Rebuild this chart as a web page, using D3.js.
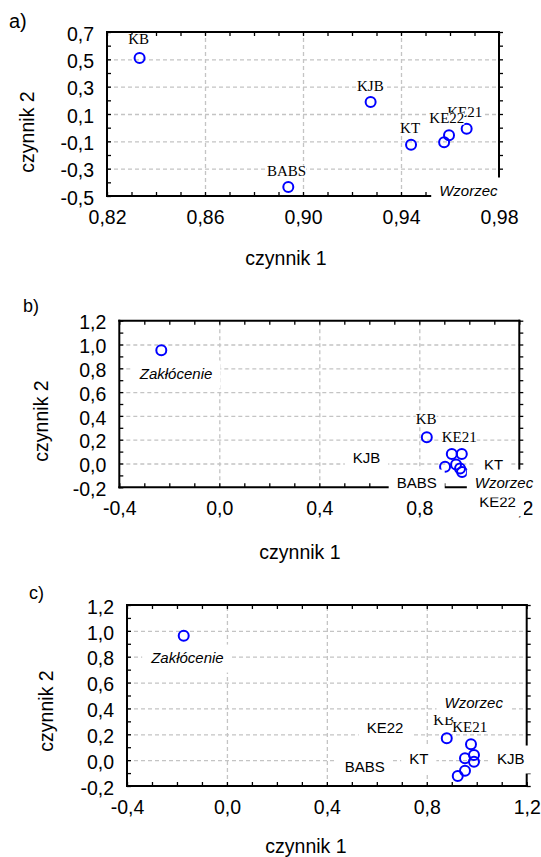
<!DOCTYPE html>
<html>
<head>
<meta charset="utf-8">
<script src="https://cdn.jsdelivr.net/npm/d3@7/dist/d3.min.js"></script>
<style>
  body { margin: 0; background: #fff; }
  svg { display: block; }
  .grid line { stroke: #c4c4c4; stroke-width: 1.3; stroke-dasharray: 4 3; }
  .grid path, .ticks path { display: none; }
  .ticks line { stroke: #000; stroke-width: 1.3; }
  .frame { stroke: #000; stroke-width: 2; }
  .sans { font-family: "Liberation Sans", Arial, sans-serif; }
  .serif { font-family: "Liberation Serif", "Times New Roman", serif; }
</style>
</head>
<body>
<svg id="chart" width="541" height="857"></svg>
<script>
// ---- panel a) ----
const aPointNames = ['KB', 'KJB', 'KT', 'KE22', 'Wzorzec', 'KE21', 'BABS'];
const aPointX = [0.8333, 0.9276, 0.9441, 0.9576, 0.9596, 0.9668, 0.8940];
const aPointY = [0.510, 0.188, -0.125, -0.107, -0.056, -0.008, -0.434];
// label anchors in data units (draw order)
const aLabels = ['KB', 'KJB', 'KT', 'BABS', 'KE21', 'KE22', 'Wzorzec'];
const aLabelX = [0.8329, 0.9275, 0.9437, 0.8933, 0.9660, 0.9587, 0.9675];
const aLabelY = [0.611, 0.270, -0.037, -0.351, 0.080, 0.036, -0.500];
const aXTicks = [0.82, 0.86, 0.90, 0.94, 0.98];
const aYTicks = [-0.5, -0.3, -0.1, 0.1, 0.3, 0.5, 0.7];

// ---- panel b) ----
const bPointNames = ['Zakłócenie', 'KB', 'KJB', 'KE21', 'BABS', 'KT', 'KE22', 'Wzorzec'];
const bPointX = [-0.232, 0.830, 0.930, 0.970, 0.903, 0.947, 0.963, 0.971];
const bPointY = [0.951, 0.221, 0.080, 0.080, -0.027, -0.008, -0.042, -0.071];
const bLabels = ['Zakłócenie', 'KB', 'KE21', 'KJB', 'KT', 'KE22', 'BABS', 'Wzorzec'];
const bLabelX = [-0.173, 0.8276, 0.9596, 0.5888, 1.0968, 1.1128, 0.7896, 1.1388];
const bLabelY = [0.710, 0.329, 0.183, 0.004, -0.055, -0.363, -0.206, -0.206];
const bXTicks = [-0.4, 0.0, 0.4, 0.8, 1.2];
const bYTicks = [-0.2, 0.0, 0.2, 0.4, 0.6, 0.8, 1.0, 1.2];

// ---- panel c) ----
const cPointNames = ['Zakłócenie', 'KB', 'KE21', 'KJB', 'KT', 'KE22', 'Wzorzec', 'BABS'];
const cPointX = [-0.173, 0.880, 0.977, 0.989, 0.953, 0.989, 0.953, 0.924];
const cPointY = [0.963, 0.169, 0.123, 0.040, 0.014, -0.012, -0.082, -0.123];
const cLabels = ['Zakłócenie', 'KE22', 'BABS', 'KT', 'KJB', 'KB', 'KE21', 'Wzorzec'];
const cLabelX = [-0.158, 0.633, 0.552, 0.768, 1.136, 0.868, 0.972, 0.988];
const cLabelY = [0.751, 0.212, -0.089, -0.030, -0.030, 0.272, 0.221, 0.406];
const cXTicks = [-0.4, 0.0, 0.4, 0.8, 1.2];
const cYTicks = [-0.2, 0.0, 0.2, 0.4, 0.6, 0.8, 1.0, 1.2];

const xTitle = 'czynnik 1';
const yTitle = 'czynnik 2';

const locale = d3.formatLocale({
  decimal: ',', thousands: ' ', grouping: [3], currency: ['', ''], minus: '-'
});

const panels = [
  {
    tag: 'a)', tagPos: [9, 28], tagSize: 20,
    px: aPointX, py: aPointY, labels: aLabels, lx: aLabelX, ly: aLabelY,
    xTicks: aXTicks, yTicks: aYTicks, xStep: 0.01, yStep: 0.1,
    xFmt: '.2f', yFmt: '.1f',
    rect: { left: 107, right: 499, top: 32, bottom: 196 },
    xTitlePos: [286, 265], yTitlePos: [27, 132],
    serif: ['KB', 'KJB', 'KT', 'BABS', 'KE21', 'KE22'], italic: ['Wzorzec']
  },
  {
    tag: 'b)', tagPos: [23, 312], tagSize: 18,
    px: bPointX, py: bPointY, labels: bLabels, lx: bLabelX, ly: bLabelY,
    xTicks: bXTicks, yTicks: bYTicks, xStep: 0.1, yStep: 0.1,
    xFmt: '.1f', yFmt: '.1f',
    rect: { left: 119.3, right: 519.3, top: 320.7, bottom: 487.3 },
    xTitlePos: [300, 559], yTitlePos: [41, 421],
    serif: ['KB', 'KE21'], italic: ['Wzorzec', 'Zakłócenie']
  },
  {
    tag: 'c)', tagPos: [29, 599], tagSize: 18,
    px: cPointX, py: cPointY, labels: cLabels, lx: cLabelX, ly: cLabelY,
    xTicks: cXTicks, yTicks: cYTicks, xStep: 0.1, yStep: 0.1,
    xFmt: '.1f', yFmt: '.1f',
    rect: { left: 127, right: 526.7, top: 605, bottom: 786 },
    xTitlePos: [306, 853], yTitlePos: [46, 711],
    serif: ['KB', 'KE21'], italic: ['Wzorzec', 'Zakłócenie']
  }
];

const svg = d3.select('#chart');

function stepsBetween(lo, hi, step) {
  const n = Math.round((hi - lo) / step);
  return d3.range(n + 1).map(i => lo + i * step);
}

panels.forEach(p => {
  const { left, right, top, bottom } = p.rect;
  const xDomain = d3.extent(p.xTicks);
  const yDomain = d3.extent(p.yTicks);
  const x = d3.scaleLinear().domain(xDomain).range([left, right]);
  const y = d3.scaleLinear().domain(yDomain).range([bottom, top]);
  const g = svg.append('g');

  // siatka (linie przerywane)
  g.append('g')
    .attr('class', 'grid')
    .attr('transform', `translate(0, ${bottom})`)
    .call(d3.axisBottom(x).tickValues(p.xTicks.slice(1, -1)).tickSize(-(bottom - top)).tickFormat(''));
  g.append('g')
    .attr('class', 'grid')
    .attr('transform', `translate(${left}, 0)`)
    .call(d3.axisLeft(y).tickValues(p.yTicks.slice(1, -1)).tickSize(-(right - left)).tickFormat(''));

  // ramka
  const frame = [
    [left, top, right, top], [left, bottom, right, bottom],
    [left, top, left, bottom], [right, top, right, bottom]
  ];
  g.selectAll('line.frame').data(frame).join('line')
    .attr('class', 'frame')
    .attr('x1', d => d[0]).attr('y1', d => d[1])
    .attr('x2', d => d[2]).attr('y2', d => d[3])
    .attr('stroke-linecap', 'square');

  // drobne znaczniki
  const xMinor = stepsBetween(xDomain[0], xDomain[1], p.xStep);
  const yMinor = stepsBetween(yDomain[0], yDomain[1], p.yStep);
  g.append('g').attr('class', 'ticks').attr('transform', `translate(0, ${bottom})`)
    .call(d3.axisBottom(x).tickValues(xMinor).tickSize(-4).tickFormat(''));
  g.append('g').attr('class', 'ticks').attr('transform', `translate(0, ${top})`)
    .call(d3.axisTop(x).tickValues(xMinor).tickSize(-4).tickFormat(''));
  g.append('g').attr('class', 'ticks').attr('transform', `translate(${left}, 0)`)
    .call(d3.axisLeft(y).tickValues(yMinor).tickSize(-4).tickFormat(''));
  g.append('g').attr('class', 'ticks').attr('transform', `translate(${right}, 0)`)
    .call(d3.axisRight(y).tickValues(yMinor).tickSize(4).tickFormat(''));

  // opisy osi
  const xAxis = g.append('g').attr('transform', `translate(0, ${bottom})`)
    .call(d3.axisBottom(x).tickValues(p.xTicks).tickSize(0).tickFormat(locale.format(p.xFmt)));
  xAxis.select('.domain').remove();
  xAxis.selectAll('text')
    .attr('class', 'sans').attr('y', 28).attr('dy', null)
    .style('font-size', '19.5px').attr('fill', '#000');

  const yAxis = g.append('g').attr('transform', `translate(${left}, 0)`)
    .call(d3.axisLeft(y).tickValues(p.yTicks).tickSize(0).tickPadding(13).tickFormat(locale.format(p.yFmt)));
  yAxis.select('.domain').remove();
  yAxis.selectAll('text')
    .attr('class', 'sans').attr('dy', '0.42em')
    .style('font-size', '19.5px').attr('fill', '#000');

  g.append('text').attr('class', 'sans')
    .attr('x', p.xTitlePos[0]).attr('y', p.xTitlePos[1])
    .attr('text-anchor', 'middle').style('font-size', '19.5px')
    .text(xTitle);
  g.append('text').attr('class', 'sans')
    .attr('transform', `translate(${p.yTitlePos[0]}, ${p.yTitlePos[1]}) rotate(-90)`)
    .attr('text-anchor', 'middle').attr('dy', '0.35em').style('font-size', '19.5px')
    .text(yTitle);

  g.append('text').attr('class', 'sans')
    .attr('x', p.tagPos[0]).attr('y', p.tagPos[1])
    .style('font-size', p.tagSize + 'px')
    .text(p.tag);

  // punkty
  g.selectAll('circle').data(p.px.map((v, i) => [v, p.py[i]])).join('circle')
    .attr('cx', d => x(d[0])).attr('cy', d => y(d[1]))
    .attr('r', 5)
    .attr('fill', 'none').attr('stroke', '#0000ff').attr('stroke-width', 2);

  // etykiety z białym tłem
  p.labels.forEach((name, i) => {
    const lx = x(p.lx[i]);
    const ly = y(p.ly[i]);
    const isSerif = p.serif.includes(name);
    const isItalic = p.italic.includes(name);
    const t = g.append('text')
      .attr('class', isSerif ? 'serif' : 'sans')
      .attr('x', lx).attr('y', ly)
      .attr('text-anchor', 'middle')
      .style('font-size', '15px')
      .style('font-style', isItalic ? 'italic' : 'normal')
      .attr('fill', '#000')
      .text(name);
    const bb = t.node().getBBox();
    const r = g.insert('rect', () => t.node()).attr('fill', '#fff');
    if (isSerif) {
      // ciasne tło pod literami szeryfowymi
      r.attr('x', bb.x).attr('y', ly - 10)
        .attr('width', bb.width).attr('height', 12);
    } else {
      r.attr('x', bb.x - 8).attr('y', ly - 18.5)
        .attr('width', bb.width + 16).attr('height', 28);
    }
  });
});
</script>
</body>
</html>
